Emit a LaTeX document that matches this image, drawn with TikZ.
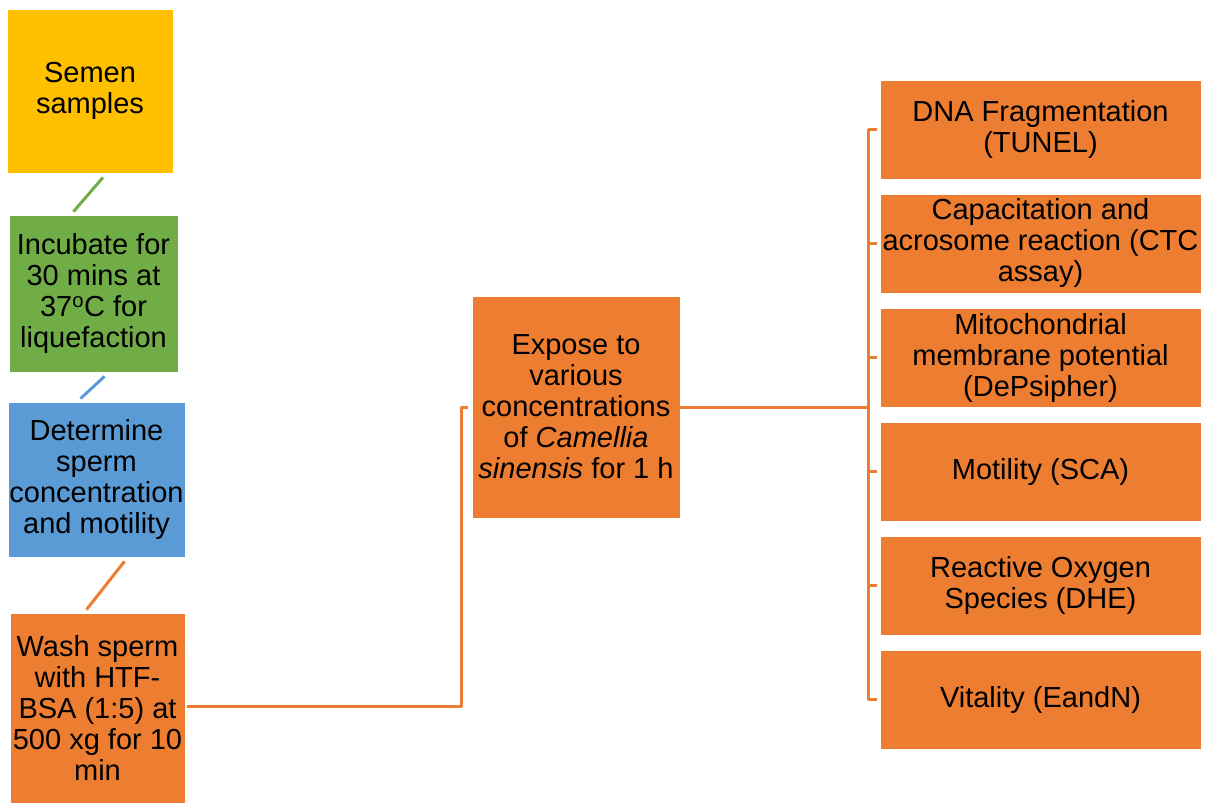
\documentclass[tikz,border=0pt]{standalone}
\usepackage{fontspec}
\setmainfont{Liberation Sans}
\definecolor{boxyellow}{HTML}{FFC000}
\definecolor{boxgreen}{HTML}{70AD47}
\definecolor{boxblue}{HTML}{5B9BD5}
\definecolor{boxorange}{HTML}{ED7D31}
\begin{document}
\begin{tikzpicture}[x=1pt,y=-1pt,line join=round,
    font=\fontsize{29}{31}\selectfont,
    stepbox/.style={draw=white,line width=0.8pt,align=center,inner sep=1pt},
    testbox/.style={stepbox,fill=boxorange,minimum width=321pt,minimum height=99pt},
    link/.style={line width=3pt,boxorange}]
            \useasboundingbox (0,0) rectangle (1206,805);
            %Cot trai
            \node[stepbox,fill=boxyellow,minimum width=166pt,minimum height=164pt] (semen) at (90,91) {Semen\\samples};
            \node[stepbox,fill=boxgreen,minimum width=169pt,minimum height=157pt] (incubate) at (93.5,293.5) {Incubate for\\30 mins at\\37\textsuperscript{o}C for\\liquefaction};
            \node[stepbox,fill=boxblue,minimum width=177pt,minimum height=155pt] (determine) at (96.5,479.5) {Determine\\sperm\\concentration\\and motility};
            \node[stepbox,fill=boxorange,minimum width=175pt,minimum height=190pt] (wash) at (97.5,708) {Wash sperm\\with HTF-\\BSA (1:5) at\\500 xg for 10\\min};
            %Giua
            \node[stepbox,fill=boxorange,minimum width=208pt,minimum height=222pt] (expose) at (576,407) {Expose to\\various\\concentrations\\of \textit{Camellia}\\\textit{sinensis} for 1 h};
            %Cot phai
            \node[testbox] (dna) at (1040.5,129.5) {DNA Fragmentation\\(TUNEL)};
            \node[testbox] (ctc) at (1040.5,243.5) {Capacitation and\\acrosome reaction (CTC\\assay)};
            \node[testbox] (mito) at (1040.5,357.5) {Mitochondrial\\membrane potential\\(DePsipher)};
            \node[testbox] (sca) at (1040.5,471.5) {Motility (SCA)};
            \node[testbox] (dhe) at (1040.5,585.5) {Reactive Oxygen\\Species (DHE)};
            \node[testbox] (vital) at (1040.5,699.5) {Vitality (EandN)};
            %Duong noi
            \draw[link,boxgreen] ([xshift=13pt,yshift=-4pt]semen.south) -- ([xshift=-20pt,yshift=3pt]incubate.north);
            \draw[link,boxblue] ([xshift=11pt,yshift=-4pt]incubate.south) -- ([xshift=-16pt,yshift=3pt]determine.north);
            \draw[link] ([xshift=28pt,yshift=-4pt]determine.south) -- ([xshift=-11pt,yshift=3pt]wash.north);
            \coordinate (elbow) at (461,0);
            \coordinate (hub) at (868,407);
            \draw[link,shorten >=4pt] ([xshift=2pt,yshift=2pt]wash.east) -| (elbow |- expose.west) -- (expose.west);
            \draw[link] (expose.east) -- (hub);
            \draw[link] (hub |- dna.west) -- (hub |- vital.west);
            \foreach \t in {dna,ctc,mito,sca,dhe,vital}
                \draw[link,shorten >=3pt] (hub |- \t.west) -- (\t.west);
        \end{tikzpicture}
\end{document}
